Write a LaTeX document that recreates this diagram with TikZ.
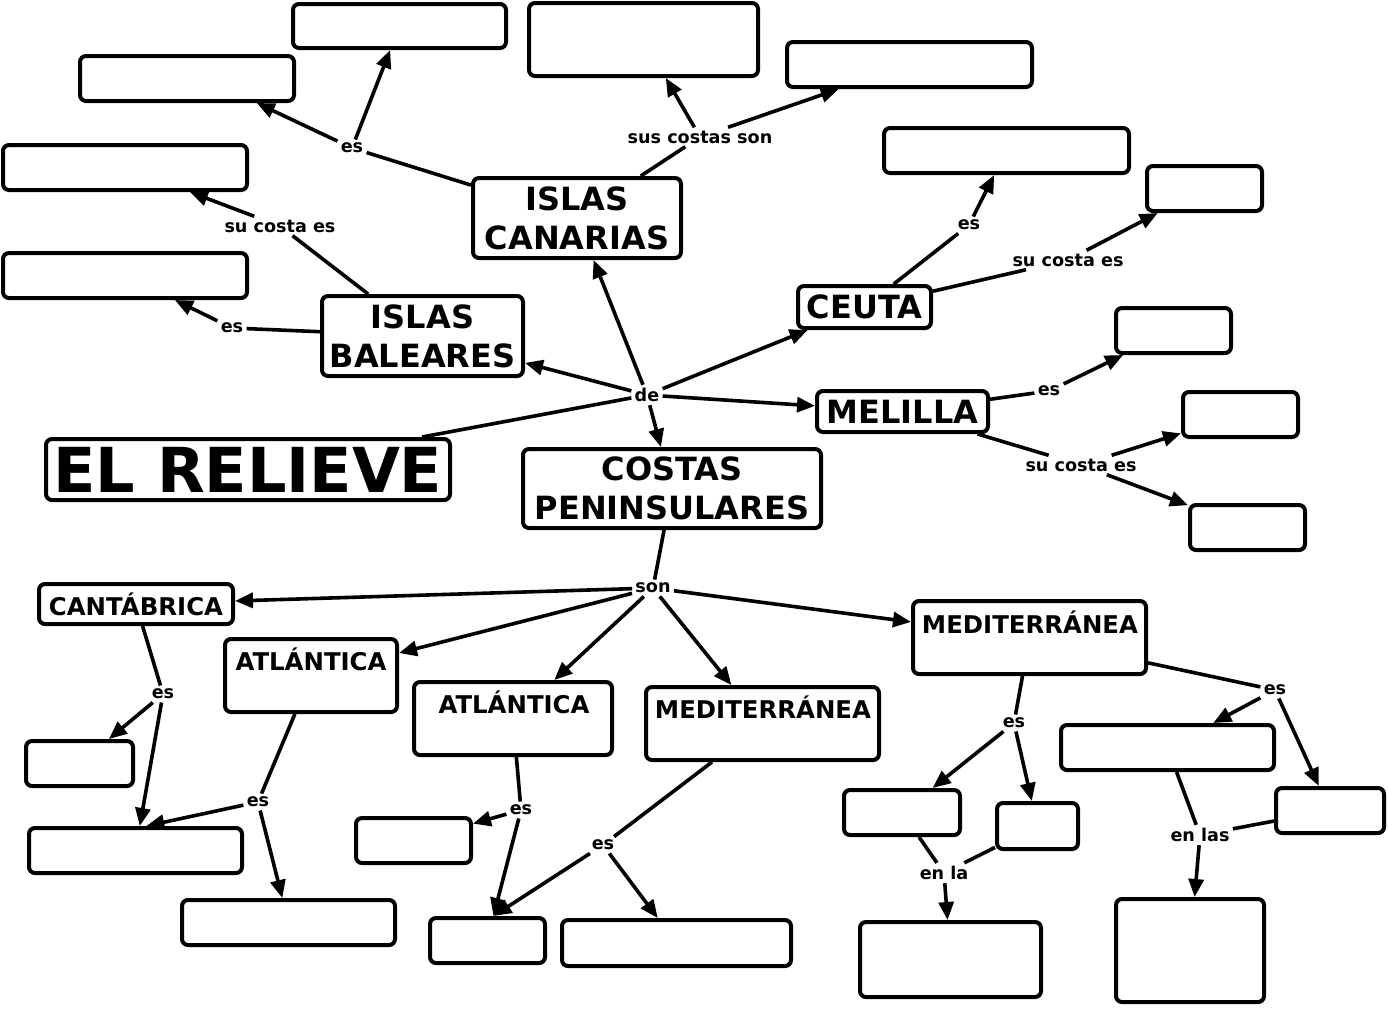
\documentclass[tikz,border=0pt]{standalone}
\usepackage{fontspec}
\setmainfont{DejaVu Sans}
\usetikzlibrary{arrows.meta,calc}
\newcommand\mybox[6]{\node[box,minimum width={(#4-#2)*0.5pt-2pt},minimum height={(#5-#3)*0.5pt-2pt}] (#1) at ({(#2+#4)/2},{(#3+#5)/2}) {#6};}
\begin{document}
\begin{tikzpicture}[x=0.5pt,y=-0.5pt,
 box/.style={draw,line width=2pt,rounded corners=3pt,inner sep=0pt,align=center,font=\bfseries\fontsize{16}{19.5}\selectfont},
 lnk/.style={font=\bfseries\fontsize{8.8}{10}\selectfont,inner sep=1.5pt},
 con/.style={line width=1.8pt},
 arr/.style={con,-{Triangle[length=9pt,width=7.5pt]}},
 sub/.style={font=\bfseries\fontsize{12.2}{14}\selectfont,anchor=base,inner sep=0pt}]
\fill[white] (0,0) rectangle (1388,1009);
\useasboundingbox (0,0) rectangle (1388,1009);
% main boxes
\mybox{relieve}{44}{437}{452}{502}{\fontsize{31}{36}\selectfont EL RELIEVE}
\mybox{costas}{521}{447}{823}{530}{COSTAS\\PENINSULARES}
\mybox{canarias}{471}{176}{683}{260}{ISLAS\\CANARIAS}
\mybox{baleares}{320}{294}{525}{378}{ISLAS\\BALEARES}
\mybox{ceuta}{796}{284}{933}{330}{CEUTA}
\mybox{melilla}{815}{389}{990}{434}{MELILLA}
\mybox{cant}{37}{582}{235}{626}{}
\mybox{atl1}{223}{637}{399}{714}{}
\mybox{atl2}{412}{680}{614}{757}{}
\mybox{med1}{644}{685}{881}{762}{}
\mybox{med2}{911}{599}{1148}{676}{}
\node[sub] (cantt) at (136,615) {CANTÁBRICA};
\node[sub] (atl1t) at (311,670) {ATLÁNTICA};
\node[sub] (atl2t) at (514,713) {ATLÁNTICA};
\node[sub] (med1t) at (763,718) {MEDITERRÁNEA};
\node[sub] (med2t) at (1030,633) {MEDITERRÁNEA};
% empty boxes
\mybox{e1}{291}{2}{508}{50}{}
\mybox{e2}{78}{54}{296}{103}{}
\mybox{e3}{527}{1}{760}{78}{}
\mybox{e4}{785}{40}{1034}{89}{}
\mybox{e5}{1}{143}{249}{192}{}
\mybox{e6}{1}{251}{249}{300}{}
\mybox{e7}{882}{126}{1131}{175}{}
\mybox{e8}{1145}{164}{1264}{213}{}
\mybox{e9}{1114}{306}{1233}{355}{}
\mybox{e10}{1181}{390}{1300}{439}{}
\mybox{e11}{1188}{503}{1307}{552}{}
\mybox{e12}{24}{739}{135}{788}{}
\mybox{e13}{27}{826}{244}{875}{}
\mybox{e14}{180}{898}{397}{947}{}
\mybox{e15}{354}{816}{473}{865}{}
\mybox{e16}{428}{916}{547}{965}{}
\mybox{e17}{560}{918}{793}{968}{}
\mybox{e18}{842}{788}{962}{837}{}
\mybox{e19}{995}{801}{1080}{851}{}
\mybox{e20}{858}{920}{1043}{999}{}
\mybox{e21}{1059}{723}{1276}{772}{}
\mybox{e22}{1274}{786}{1386}{835}{}
\mybox{e23}{1114}{897}{1266}{1004}{}
\coordinate (e2b) at ($(e2.south west)!0.82!(e2.south east)$);
\coordinate (e13t) at ($(e13.north west)!0.55!(e13.north east)$);
\coordinate (e16t) at ($(e16.north west)!0.55!(e16.north east)$);
% link labels
\node[lnk] (l1) at (352,148) {es};
\node[lnk] (l2) at (700,137) {sus costas son};
\node[lnk] (l3) at (280,226) {su costa es};
\node[lnk] (l4) at (232,328) {es};
\node[lnk] (de) at (647,395) {de};
\node[lnk] (l5) at (969,225) {es};
\node[lnk] (l6) at (1068,260) {su costa es};
\node[lnk] (l7) at (1049,391) {es};
\node[lnk] (l8) at (1081,465) {su costa es};
\node[lnk] (son) at (653,588) {son};
\node[lnk] (l9) at (163,694) {es};
\node[lnk] (l10) at (258,802) {es};
\node[lnk] (l11) at (521,810) {es};
\node[lnk] (l12) at (603,845) {es};
\node[lnk] (l13) at (1014,723) {es};
\node[lnk] (l14) at (1275,690) {es};
\node[lnk] (l15) at (944,873) {en la};
\node[lnk] (l16) at (1200,835) {en las};
% connectors
\draw[con] (canarias) -- (l1);
\draw[arr] (l1) -- (e2b);
\draw[arr] (l1) -- (e1);
\draw[con] (canarias) -- (l2);
\draw[arr] (l2) -- (e3);
\draw[arr] (l2) -- (e4);
\draw[con] (baleares) -- (l3);
\draw[arr] (l3) -- (e5);
\draw[con] (baleares) -- (l4);
\draw[arr] (l4) -- (e6);
\draw[con] (relieve) -- (de);
\draw[arr] (de) -- (baleares);
\draw[arr] (de) -- (canarias);
\draw[arr] (de) -- (ceuta);
\draw[arr] (de) -- (melilla);
\draw[arr] (de) -- (costas);
\draw[con] (ceuta) -- (l5);
\draw[arr] (l5) -- (e7);
\draw[con] (ceuta) -- (l6);
\draw[arr] (l6) -- (e8);
\draw[con] (melilla) -- (l7);
\draw[arr] (l7) -- (e9);
\draw[con] (melilla) -- (l8);
\draw[arr] (l8) -- (e10);
\draw[arr] (l8) -- (e11);
\draw[con] (costas) -- (son);
\draw[arr] (son) -- (cant);
\draw[arr] (son) -- (atl1);
\draw[arr] (son) -- (atl2);
\draw[arr] (son) -- (med1);
\draw[arr] (son) -- (med2);
\draw[con] (cant) -- (l9);
\draw[arr] (l9) -- (e12);
\draw[arr] (l9) -- (e13);
\draw[con] (atl1) -- (l10);
\draw[arr] (l10) -- (e13t);
\draw[arr] (l10) -- (e14);
\draw[con] (atl2) -- (l11);
\draw[arr] (l11) -- (e15);
\draw[arr] (l11) -- (e16t);
\draw[con] (med1) -- (l12);
\draw[arr] (l12) -- (e16t);
\draw[arr] (l12) -- (e17);
\draw[con] (med2) -- (l13);
\draw[arr] (l13) -- (e18);
\draw[arr] (l13) -- (e19);
\draw[con] (med2) -- (l14);
\draw[arr] (l14) -- (e21);
\draw[arr] (l14) -- (e22);
\draw[con] (e18) -- (l15);
\draw[con] (e19) -- (l15);
\draw[arr] (l15) -- (e20);
\draw[con] (e21) -- (l16);
\draw[con] (e22) -- (l16);
\draw[arr] (l16) -- (e23);
\end{tikzpicture}
\end{document}
